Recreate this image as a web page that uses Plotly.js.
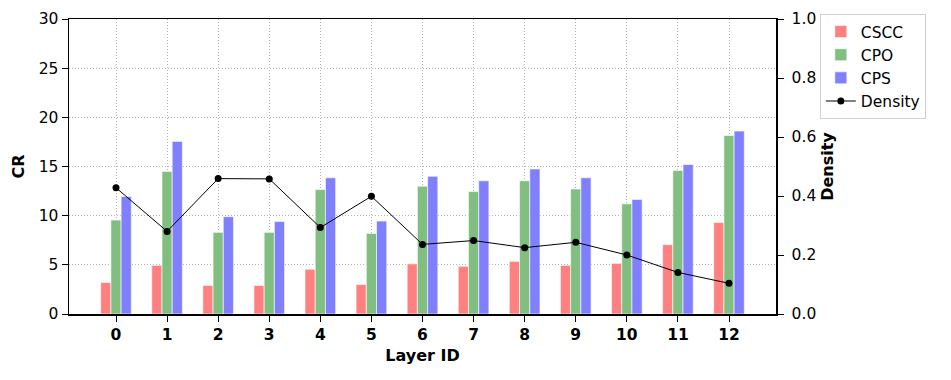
<!DOCTYPE html>
<html>
<head>
<meta charset="utf-8">
<script src="https://cdn.plot.ly/plotly-3.0.1.min.js"></script>
<style>
  html, body { margin: 0; padding: 0; background: #fff; }
  #chart { width: 951px; height: 380px; }
</style>
</head>
<body>
<div id="chart"></div>
<script>
// Per-layer values
const layers = [0, 1, 2, 3, 4, 5, 6, 7, 8, 9, 10, 11, 12];
const cscc = [3.2, 4.95, 2.9, 2.9, 4.55, 3.0, 5.1, 4.85, 5.35, 4.95, 5.15, 7.05, 9.3];
const cpo = [9.55, 14.5, 8.3, 8.3, 12.65, 8.2, 13.0, 12.45, 13.55, 12.7, 11.2, 14.6, 18.15];
const cps = [11.95, 17.55, 9.9, 9.4, 13.85, 9.45, 14.0, 13.55, 14.75, 13.85, 11.65, 15.2, 18.6];
const density = [0.428, 0.280, 0.459, 0.458, 0.293, 0.399, 0.236, 0.249, 0.225, 0.243, 0.200, 0.141, 0.104];

const FONT = 'DejaVu Sans, sans-serif';
const TICK_SIZE = 15.5;
const GRID = { showgrid: true, gridcolor: '#b4b4b4', griddash: '1px,2px', gridwidth: 1 };

function barTrace(name, values, color) {
    return {
        type: 'bar',
        name: name,
        x: layers,
        y: values,
        marker: { color: color, line: { color: 'rgba(255,255,255,0.6)', width: 1 } },
        yaxis: 'y'
    };
}

const traces = [
    barTrace('CSCC', cscc, '#ff8080'),
    barTrace('CPO', cpo, '#80bf80'),
    barTrace('CPS', cps, '#8080ff'),
    {
        type: 'scatter',
        mode: 'lines+markers',
        name: 'Density',
        x: layers,
        y: density,
        yaxis: 'y2',
        line: { color: '#000', width: 1 },
        marker: { color: '#000', size: 7 }
    }
];

const layout = {
    width: 951,
    height: 380,
    margin: { l: 69, r: 175, t: 19, b: 66 },
    paper_bgcolor: '#fff',
    plot_bgcolor: '#fff',
    font: { family: FONT, size: TICK_SIZE, color: '#000' },
    barmode: 'group',
    bargap: 0.4,
    bargroupgap: 0,
    showlegend: true,
    legend: {
        x: 1.062, y: 1.017, xanchor: 'left', yanchor: 'top',
        bordercolor: '#d0d0d0', borderwidth: 1, bgcolor: '#fff',
        font: { family: FONT, size: TICK_SIZE },
        tracegroupgap: 0
    },
    xaxis: Object.assign({
        range: [-0.92, 12.92],
        tickmode: 'array',
        tickvals: layers,
        ticktext: layers.map(String),
        tickfont: { family: FONT, size: TICK_SIZE, weight: 'bold' },
        ticks: 'outside', ticklen: 6, tickcolor: '#000',
        showline: true, linecolor: '#000', linewidth: 1.5, mirror: true,
        zeroline: false,
        title: { text: 'Layer ID', font: { family: FONT, size: 16, weight: 'bold' }, standoff: 6 }
    }, GRID),
    yaxis: Object.assign({
        range: [0, 30],
        dtick: 5,
        ticks: 'outside', ticklen: 6, tickcolor: '#000',
        showline: true, linecolor: '#000', linewidth: 1.5,
        zeroline: false,
        title: { text: 'CR', font: { family: FONT, size: 16, weight: 'bold' }, standoff: 10 }
    }, GRID),
    yaxis2: {
        overlaying: 'y',
        side: 'right',
        range: [0, 1],
        dtick: 0.2,
        tickformat: '.1f',
        ticks: 'outside', ticklen: 6, tickcolor: '#000',
        ticklabelstandoff: 5,
        showline: true, linecolor: '#000', linewidth: 1.5,
        showgrid: false,
        zeroline: false,
        title: { text: 'Density', font: { family: FONT, size: 16, weight: 'bold' }, standoff: 6 }
    }
};

Plotly.newPlot('chart', traces, layout, { displayModeBar: false, staticPlot: true });
</script>
</body>
</html>
